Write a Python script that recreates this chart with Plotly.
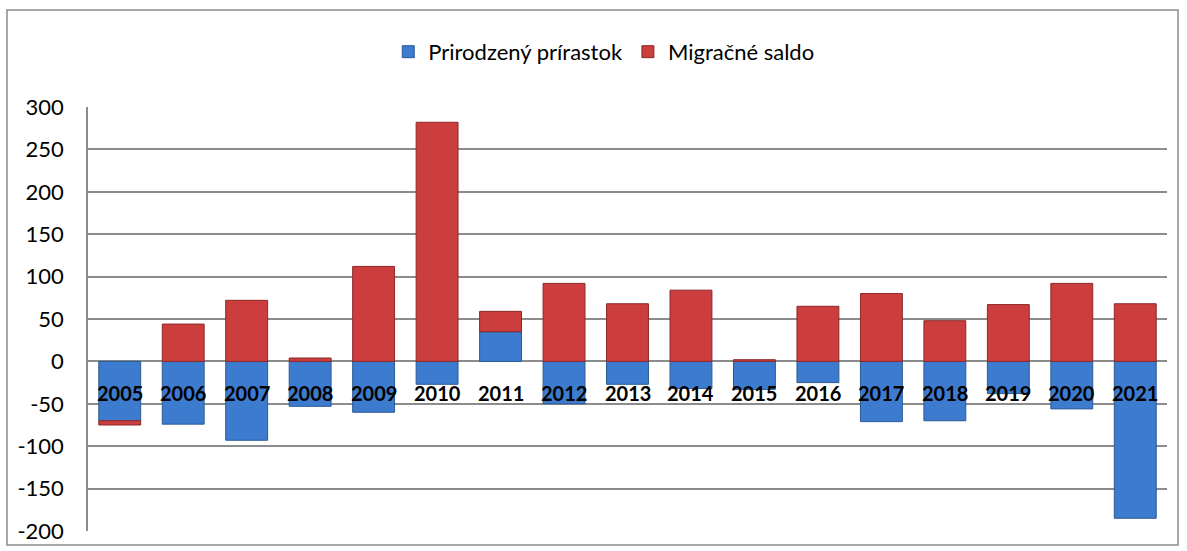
import plotly.graph_objects as go

years = ["2005", "2006", "2007", "2008", "2009", "2010", "2011", "2012", "2013",
         "2014", "2015", "2016", "2017", "2018", "2019", "2020", "2021"]
prirodzeny = [-70, -74, -93, -53, -60, -27, 35, -50, -27, -32, -33, -25, -71, -70, -38, -56, -185]
migracne = [-5, 44, 72, 4, 112, 282, 24, 92, 68, 84, 2, 65, 80, 48, 67, 92, 68]
y_ticks = [300, 250, 200, 150, 100, 50, 0, -50, -100, -150, -200]
y_ticktext = [str(v) for v in y_ticks]

FONT = "Lato"

fig = go.Figure()
fig.add_trace(go.Bar(
    x=years, y=prirodzeny, name="Prirodzený prírastok",
    marker=dict(color="#3C7BCE", line=dict(color="#2B5A96", width=1)),
))
fig.add_trace(go.Bar(
    x=years, y=migracne, name="Migračné saldo",
    marker=dict(color="#CC3D3D", line=dict(color="#8C2828", width=1)),
))

for i, yr in enumerate(years):
    fig.add_annotation(x=i, y=-37, text="<b>%s</b>" % yr, showarrow=False,
                       font=dict(family=FONT, size=20, color="black"),
                       xref="x", yref="y")

fig.add_shape(type="rect", xref="paper", yref="paper",
              x0=-0.0751, x1=1.0102, y0=-0.033, y1=1.2288,
              line=dict(color="#8C8C8C", width=1.5), fillcolor="rgba(0,0,0,0)",
              layer="below")

fig.update_layout(
    width=1187, height=551,
    barmode="relative", bargap=0.34,
    paper_bgcolor="white", plot_bgcolor="white",
    margin=dict(l=88, r=20, t=107, b=20, autoexpand=False),
    font=dict(family=FONT, size=21, color="black"),
    legend=dict(orientation="h", x=0.478, xanchor="center", y=1.13, yanchor="middle",
                font=dict(family=FONT, size=22), bgcolor="rgba(0,0,0,0)",
                traceorder="normal", itemwidth=30),
    showlegend=True,
)
fig.update_xaxes(type="category", categoryorder="array", categoryarray=years,
                 range=[-0.5, len(years) - 0.5], autorange=False,
                 showticklabels=False, showgrid=False, zeroline=False,
                 showline=False, ticks="")
fig.update_yaxes(range=[-200, 300], tickvals=y_ticks, ticktext=y_ticktext,
                 showgrid=True, gridcolor="#8C8C8C", gridwidth=1.5, zeroline=True,
                 zerolinecolor="#8C8C8C", zerolinewidth=1.5,
                 showline=True, linecolor="#8C8C8C", linewidth=1.5,
                 ticks="", ticklabelstandoff=18,
                 tickfont=dict(family=FONT, size=22), mirror=False)

fig.write_html("out.html", config={"displayModeBar": False},
               post_script="document.body.style.margin='0';")
